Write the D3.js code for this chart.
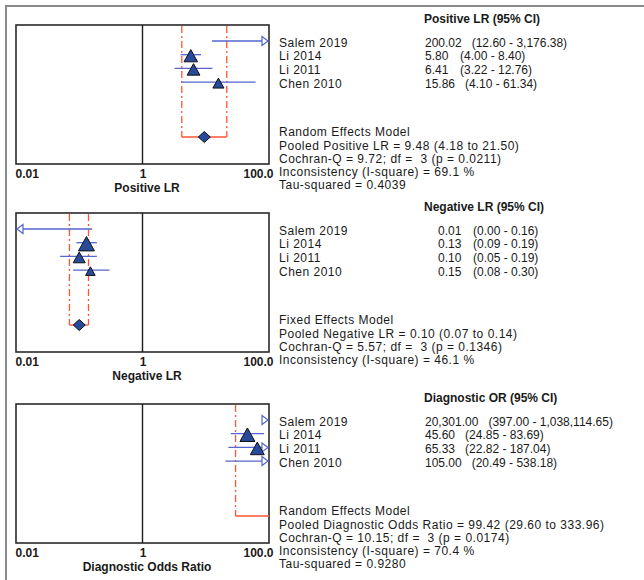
<!DOCTYPE html>
<html lang="en">
<head>
<meta charset="UTF-8">
<title>Forest plots</title>
<script src="https://d3js.org/d3.v7.min.js"></script>
<style>
  body { margin: 0; background: #fff; }
  svg text { font-family: "Liberation Sans", Arial, sans-serif; font-size: 12px; fill: #1a1a1a; }
  svg text.wide { letter-spacing: 0.5px; }
</style>
</head>
<body>
<div id="chart"></div>
<script>
// Data
const studies = ['Salem 2019', 'Li 2014', 'Li 2011', 'Chen 2010'];
const tickValues = [0.01, 1, 100];
const tickLabels = ['0.01', '1', '100.0'];

const posEst = [200.02, 5.80, 6.41, 15.86];
const posLow = [12.60, 4.00, 3.22, 4.10];
const posHigh = [3176.38, 8.40, 12.76, 61.34];
const posWeights = [8, 36, 32, 24];
const posPooled = [9.48, 4.18, 21.50];
const posStats = ['Random Effects Model', 'Pooled Positive LR = 9.48 (4.18 to 21.50)',
  'Cochran-Q = 9.72; df =  3 (p = 0.0211)', 'Inconsistency (I-square) = 69.1 %', 'Tau-squared = 0.4039'];

const negEst = [0.01, 0.13, 0.10, 0.15];
const negLow = [0.00, 0.09, 0.05, 0.08];
const negHigh = [0.16, 0.19, 0.19, 0.30];
const negWeights = [6, 50, 28, 18];
const negPooled = [0.10, 0.07, 0.14];
const negStats = ['Fixed Effects Model', 'Pooled Negative LR = 0.10 (0.07 to 0.14)',
  'Cochran-Q = 5.57; df =  3 (p = 0.1346)', 'Inconsistency (I-square) = 46.1 %'];

const dorEst = [20301.00, 45.60, 65.33, 105.00];
const dorLow = [397.00, 24.85, 22.82, 20.49];
const dorHigh = [1038114.65, 83.69, 187.04, 538.18];
const dorWeights = [14, 44, 38, 28];
const dorPooled = [99.42, 29.60, 333.96];
const dorStats = ['Random Effects Model', 'Pooled Diagnostic Odds Ratio = 99.42 (29.60 to 333.96)',
  'Cochran-Q = 10.15; df =  3 (p = 0.0174)', 'Inconsistency (I-square) = 70.4 %', 'Tau-squared = 0.9280'];

const panels = [
  { top: 25, header: 'Positive LR (95% CI)', title: 'Positive LR', est: posEst, low: posLow, high: posHigh,
    w: posWeights, pooled: posPooled, stats: posStats, valX: 425 },
  { top: 213, header: 'Negative LR (95% CI)', title: 'Negative LR', est: negEst, low: negLow, high: negHigh,
    w: negWeights, pooled: negPooled, stats: negStats, valX: 438 },
  { top: 404, header: 'Diagnostic OR (95% CI)', title: 'Diagnostic Odds Ratio', est: dorEst, low: dorLow, high: dorHigh,
    w: dorWeights, pooled: dorPooled, stats: dorStats, valX: 425 }
];

const width = 644, height = 580;
const boxH = 139;
const blue = '#5566cc', red = '#ff5533', fillBlue = '#274a9a';
const fmt = d3.format(',.2f');

const svg = d3.select('#chart').append('svg')
  .attr('width', width).attr('height', height);

// outer frame (top and left only)
svg.append('path')
  .attr('d', `M6,${height} V6 H${width}`)
  .attr('fill', 'none').attr('stroke', '#8a8a8a').attr('stroke-width', 2);

const x = d3.scaleLog().domain([0.01, 100]).range([16, 269]);
const [xMin, xMax] = x.range();
const size = d3.scaleSqrt().domain([0, 50]).range([0, 16]);

panels.forEach((p, pi) => {
  const g = svg.append('g').attr('transform', `translate(0,${p.top})`);
  const y = d3.scalePoint().domain(studies).range([16, 16 + 13.7 * 3]);
  const poolY = 112;

  const clipId = 'clip' + pi;
  g.append('clipPath').attr('id', clipId)
    .append('rect').attr('x', xMin).attr('y', 0).attr('width', xMax - xMin).attr('height', boxH);

  // box + line of no effect
  g.append('rect').attr('x', xMin).attr('y', 0).attr('width', xMax - xMin).attr('height', boxH)
    .attr('fill', 'none').attr('stroke', '#2a2a2a').attr('stroke-width', 1.6);
  g.append('line').attr('x1', x(1)).attr('x2', x(1)).attr('y1', 0).attr('y2', boxH)
    .attr('stroke', '#1a1a1a').attr('stroke-width', 1.4);

  // pooled CI bracket
  const bl = x(Math.max(p.pooled[1], 0.01)), br = x(Math.min(p.pooled[2], 100));
  const bracket = g.append('g').attr('clip-path', `url(#${clipId})`);
  [[p.pooled[1], bl], [p.pooled[2], br]].forEach(([v, px]) => {
    if (v > 0.01 && v < 100) {
      bracket.append('line').attr('x1', px).attr('x2', px).attr('y1', 1).attr('y2', poolY)
        .attr('stroke', red).attr('stroke-width', 1.3).attr('stroke-dasharray', '7,3,2,3');
    }
  });
  bracket.append('line').attr('x1', bl).attr('x2', br).attr('y1', poolY).attr('y2', poolY)
    .attr('stroke', red).attr('stroke-width', 1.3);

  // CI lines and arrows
  studies.forEach((s, i) => {
    const yy = y(s);
    const lo = p.low[i], hi = p.high[i];
    const x1 = lo <= 0.01 ? xMin + 6 : x(lo);
    const x2 = hi >= 100 ? xMax - 6 : x(hi);
    if (x2 > x1) {
      g.append('line').attr('x1', x1).attr('x2', x2).attr('y1', yy).attr('y2', yy)
        .attr('stroke', blue).attr('stroke-width', 1.3);
    }
    if (hi >= 100) {
      g.append('path').attr('d', `M${xMax - 7},${yy - 4.5} L${xMax - 1},${yy} L${xMax - 7},${yy + 4.5} Z`)
        .attr('fill', '#fff').attr('stroke', blue).attr('stroke-width', 1.2);
    }
    if (lo <= 0.01) {
      g.append('path').attr('d', `M${xMin + 7},${yy - 4.5} L${xMin + 1},${yy} L${xMin + 7},${yy + 4.5} Z`)
        .attr('fill', '#fff').attr('stroke', blue).attr('stroke-width', 1.2);
    }
  });

  // point estimates (triangles sized by weight)
  studies.forEach((s, i) => {
    const v = p.est[i];
    if (v <= 0.01 || v >= 100) return;
    const w = size(p.w[i]), h = w * 0.9;
    const cx = x(v), cy = y(s) + 1;
    g.append('path')
      .attr('d', `M${cx},${cy - h / 2} L${cx + w / 2},${cy + h / 2} L${cx - w / 2},${cy + h / 2} Z`)
      .attr('fill', fillBlue).attr('stroke', '#111').attr('stroke-width', 1);
  });

  // pooled diamond
  if (p.pooled[0] > 0.01 && p.pooled[0] < 99) {
    const cx = x(p.pooled[0]);
    g.append('path')
      .attr('d', `M${cx - 6},${poolY} L${cx},${poolY - 5.5} L${cx + 6},${poolY} L${cx},${poolY + 5.5} Z`)
      .attr('fill', fillBlue).attr('stroke', '#111').attr('stroke-width', 1);
  }

  // axis
  const axis = g.append('g').attr('transform', `translate(0,${boxH + 4})`)
    .call(d3.axisBottom(x).tickValues(tickValues).tickSize(0).tickFormat((d, i) => tickLabels[i]));
  axis.select('.domain').remove();
  axis.selectAll('text')
    .style('font-weight', 'bold').style('font-size', '12px').attr('fill', '#1a1a1a')
    .attr('dy', '0.62em')
    .attr('text-anchor', (d, i) => ['start', 'middle', 'end'][i])
    .attr('x', (d, i) => [-1, 0, 4][i]);

  g.append('text').attr('x', 147).attr('y', boxH + 28)
    .attr('text-anchor', 'middle').style('font-weight', 'bold').text(p.title);

  // right-side table
  g.append('text').attr('x', 424).attr('y', -6).attr('dy', '0.35em')
    .style('font-weight', 'bold').text(p.header);
  studies.forEach((s, i) => {
    const ty = y(s) + 1.5;
    g.append('text').attr('class', 'wide').attr('x', 279).attr('y', ty).attr('dy', '0.35em').text(s);
    const val = g.append('text').attr('x', p.valX).attr('y', ty).attr('dy', '0.35em').text(fmt(p.est[i]));
    const vw = val.node().getComputedTextLength();
    g.append('text').attr('x', p.valX + Math.max(35, vw + 10)).attr('y', ty).attr('dy', '0.35em')
      .text(`(${fmt(p.low[i])} - ${fmt(p.high[i])})`);
  });
  p.stats.forEach((t, i) => {
    g.append('text').attr('class', 'wide').attr('x', 279).attr('y', 107 + i * 13.3).attr('dy', '0.35em')
      .attr('xml:space', 'preserve').style('white-space', 'pre').text(t);
  });
});
</script>
</body>
</html>
